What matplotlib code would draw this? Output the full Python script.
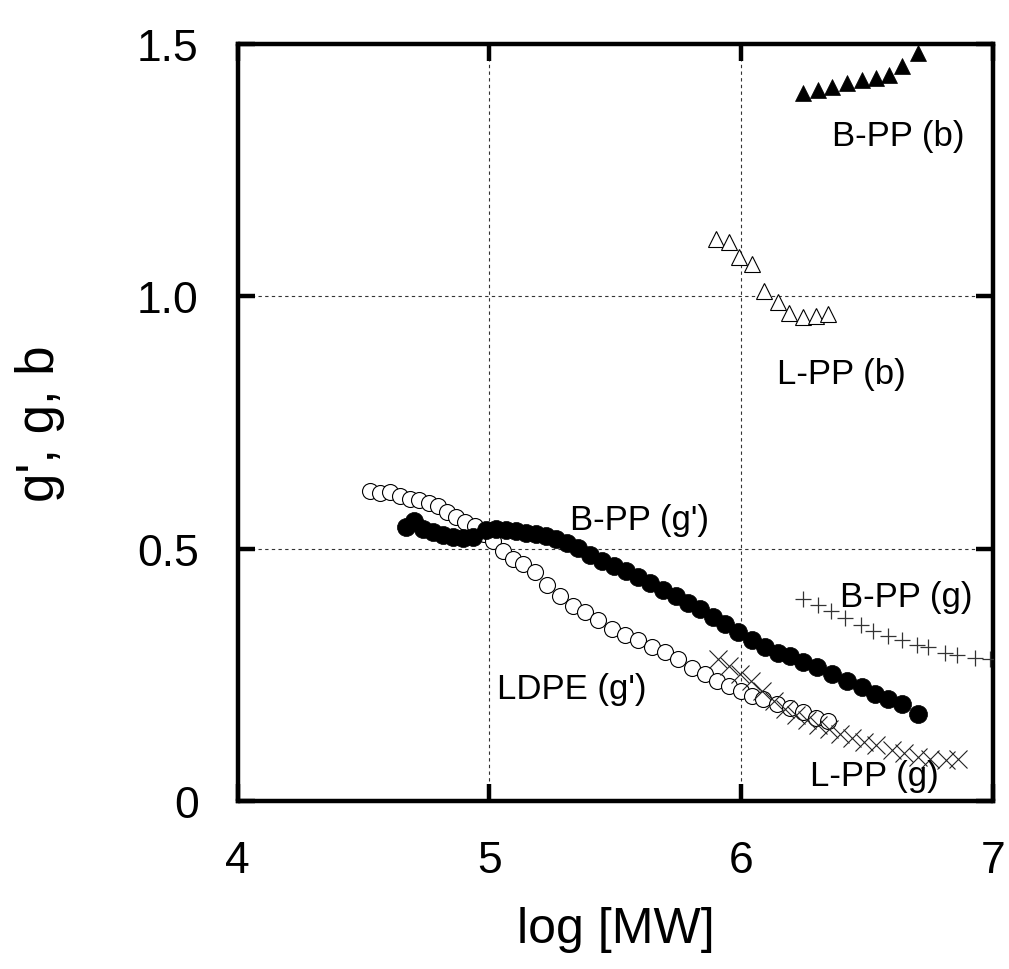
"""g', g and b versus log MW for branched/linear PP and LDPE."""

import matplotlib

matplotlib.use("Agg")
import matplotlib.pyplot as plt  # noqa: E402

plt.rcParams["font.family"] = ["Liberation Sans", "DejaVu Sans"]

# B-PP (b), filled triangles
bpp_b_x = [6.245, 6.302, 6.360, 6.417, 6.477, 6.533, 6.585, 6.638, 6.699]
bpp_b_y = [1.403, 1.407, 1.413, 1.421, 1.428, 1.432, 1.438, 1.456, 1.481]

# L-PP (b), open triangles
lpp_b_x = [5.899, 5.949, 5.990, 6.042, 6.089, 6.144, 6.188, 6.243, 6.294, 6.343]
lpp_b_y = [1.113, 1.106, 1.077, 1.063, 1.010, 0.989, 0.966, 0.958, 0.960, 0.964]

# LDPE (g'), open circles
ldpe_x = [4.526, 4.565, 4.605, 4.645, 4.685, 4.720, 4.760, 4.796, 4.831, 4.867,
          4.903, 4.942, 4.978, 5.014, 5.054, 5.093, 5.133, 5.181, 5.228, 5.280,
          5.331, 5.379, 5.431, 5.486, 5.538, 5.589, 5.645, 5.698, 5.748, 5.804,
          5.855, 5.903, 5.950, 5.998, 6.042, 6.085, 6.141, 6.192, 6.244, 6.296,
          6.343]
ldpe_y = [0.614, 0.610, 0.612, 0.604, 0.598, 0.596, 0.590, 0.584, 0.572, 0.562,
          0.552, 0.545, 0.529, 0.515, 0.495, 0.479, 0.469, 0.453, 0.428, 0.406,
          0.386, 0.374, 0.358, 0.341, 0.329, 0.319, 0.305, 0.295, 0.281, 0.263,
          0.251, 0.238, 0.228, 0.218, 0.208, 0.202, 0.192, 0.184, 0.176, 0.164,
          0.158]

# B-PP (g'), filled circles
bpp_gp_x = [4.669, 4.700, 4.736, 4.776, 4.815, 4.855, 4.895, 4.934, 4.986, 5.026,
            5.065, 5.105, 5.145, 5.185, 5.224, 5.264, 5.308, 5.351, 5.399, 5.446,
            5.494, 5.542, 5.589, 5.637, 5.688, 5.740, 5.788, 5.835, 5.887, 5.935,
            5.986, 6.042, 6.093, 6.145, 6.192, 6.244, 6.300, 6.359, 6.419, 6.478,
            6.530, 6.581, 6.637, 6.700]
bpp_gp_y = [0.543, 0.554, 0.539, 0.533, 0.527, 0.523, 0.521, 0.523, 0.537, 0.539,
            0.537, 0.535, 0.531, 0.529, 0.525, 0.519, 0.511, 0.501, 0.487, 0.475,
            0.465, 0.455, 0.444, 0.432, 0.418, 0.406, 0.392, 0.380, 0.364, 0.350,
            0.335, 0.319, 0.305, 0.293, 0.287, 0.275, 0.265, 0.251, 0.238, 0.226,
            0.212, 0.202, 0.192, 0.172]

# B-PP (g), plus markers
bpp_g_x = [6.244, 6.304, 6.355, 6.411, 6.474, 6.522, 6.581, 6.637, 6.696, 6.740,
           6.808, 6.855, 6.927, 6.986]
bpp_g_y = [0.400, 0.388, 0.376, 0.362, 0.349, 0.337, 0.327, 0.319, 0.309, 0.305,
           0.293, 0.289, 0.283, 0.281]

# L-PP (g), x markers
lpp_g_x = [5.907, 5.950, 5.994, 6.038, 6.081, 6.129, 6.173, 6.216, 6.260, 6.304,
           6.347, 6.391, 6.438, 6.486, 6.534, 6.597, 6.645, 6.700, 6.748, 6.811,
           6.859]
lpp_g_y = [0.281, 0.267, 0.251, 0.238, 0.218, 0.198, 0.182, 0.170, 0.160, 0.150,
           0.143, 0.133, 0.125, 0.117, 0.111, 0.101, 0.095, 0.087, 0.083, 0.081,
           0.083]

x_ticks = [4, 5, 6, 7]
y_ticks = [0, 0.5, 1.0, 1.5]
y_tick_labels = ["0", "0.5", "1.0", "1.5"]

# (text, left x, centre y)
labels = [
    ("B-PP (b)", 6.36, 1.317),
    ("L-PP (b)", 6.14, 0.846),
    ("B-PP (g')", 5.32, 0.558),
    ("B-PP (g)", 6.39, 0.404),
    ("LDPE (g')", 5.03, 0.222),
    ("L-PP (g)", 6.27, 0.050),
]


def main() -> None:
    fig = plt.figure(figsize=(10.09, 9.70), dpi=100)
    ax = fig.add_axes([0.2354, 0.1732, 0.7492, 0.7809])

    ax.plot(ldpe_x, ldpe_y, "o", ms=11.5, mfc="white", mec="black", mew=0.8, ls="none", zorder=3)
    ax.plot(bpp_gp_x, bpp_gp_y, "o", ms=13, mfc="black", mec="black", mew=0.5, ls="none", zorder=3)
    ax.plot(lpp_g_x, lpp_g_y, "x", ms=12.5, color="#222222", mew=0.8, ls="none", zorder=4)
    ax.plot(bpp_g_x, bpp_g_y, "+", ms=12, color="#333333", mew=0.9, ls="none", zorder=4)
    ax.plot(lpp_b_x, lpp_b_y, "^", ms=11.5, mfc="white", mec="black", mew=0.8, ls="none", zorder=3)
    ax.plot(bpp_b_x, bpp_b_y, "^", ms=11.5, mfc="black", mec="black", mew=0.5, ls="none", zorder=3)

    for text, x, y in labels:
        ax.text(x, y, text, fontsize=25, ha="left", va="center", zorder=5)

    ax.set_xlim(4, 7)
    ax.set_ylim(0, 1.5)
    ax.set_xticks(x_ticks)
    ax.set_yticks(y_ticks)
    ax.set_yticklabels(y_tick_labels)
    ax.tick_params(direction="in", top=True, right=True, length=12, width=3.2,
                   labelsize=32, pad=28)
    ax.tick_params(axis="x", pad=28)
    for spine in ax.spines.values():
        spine.set_linewidth(3.2)

    ax.set_axisbelow(True)
    ax.grid(True, color="#333333", linestyle=(0, (3, 3)), linewidth=0.8)

    ax.set_xlabel("log [MW]", fontsize=36, labelpad=18)
    ax.set_ylabel("g', g, b", fontsize=38, labelpad=52)

    fig.savefig("out.png", dpi=100)
    plt.close(fig)


if __name__ == "__main__":
    main()
